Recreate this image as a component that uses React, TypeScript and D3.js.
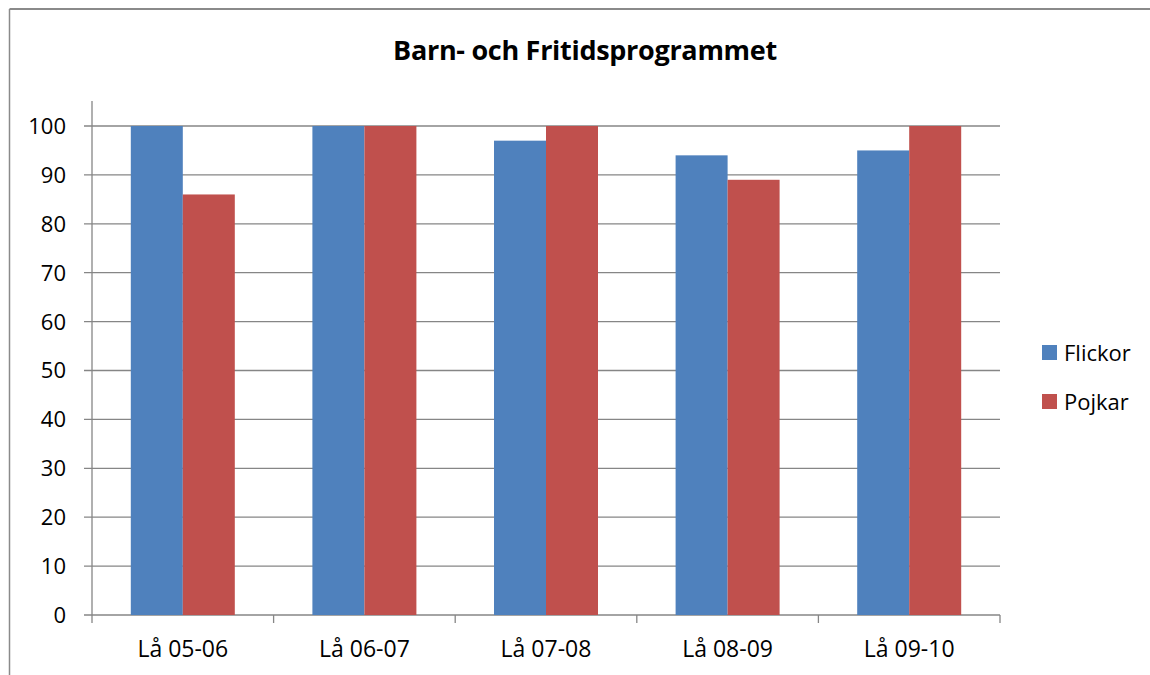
import React from "react";
import * as d3 from "d3";

const categories = ["Lå 05-06", "Lå 06-07", "Lå 07-08", "Lå 08-09", "Lå 09-10"];
const seriesNames = ["Flickor", "Pojkar"];
const flickor = [100, 100, 97, 94, 95];
const pojkar = [86, 100, 100, 89, 100];
const yTicks = [0, 10, 20, 30, 40, 50, 60, 70, 80, 90, 100];
const colors = ["#4F81BD", "#C0504D"];

const W = 1150;
const H = 675;
const FONT = "'Open Sans', 'Noto Sans', sans-serif";

export default function App() {
  const left = 92, right = 1000, top = 126, bottom = 615;
  const x = d3.scaleBand<string>().domain(categories).range([left, right]).paddingInner(0).paddingOuter(0);
  const y = d3.scaleLinear().domain([0, 100]).range([bottom, top]);
  const barW = 52;
  const x1 = d3.scaleBand<string>().domain(seriesNames).range([0, barW * 2]);
  const data = [flickor, pojkar];
  const grid = "#868686";
  const bounds = [...categories.map((c) => x(c) as number), right];

  return (
    <svg width={W} height={H} style={{ position: "absolute", left: 0, top: 0, background: "#fff" }}>
      <rect x={0} y={0} width={W} height={H} fill="#fff" />
      {/* frame */}
      <line x1={9.5} y1={9} x2={W} y2={9} stroke="#8a8a8a" strokeWidth={2} />
      <line x1={9.5} y1={9} x2={9.5} y2={H} stroke="#8a8a8a" strokeWidth={1.5} />
      <text x={585} y={60} textAnchor="middle" fontFamily={FONT} fontWeight="bold" fontSize={27} fill="#000" letterSpacing={-0.3}>
        Barn- och Fritidsprogrammet
      </text>
      {/* gridlines */}
      {yTicks.map((t) => (
        <line key={t} x1={84} x2={right} y1={y(t)} y2={y(t)} stroke={grid} strokeWidth={1.3} />
      ))}
      {/* y axis */}
      <line x1={left} x2={left} y1={101} y2={bottom} stroke={grid} strokeWidth={1.3} />
      {/* x ticks */}
      {bounds.map((b, i) => (
        <line key={i} x1={b} x2={b} y1={bottom} y2={623} stroke={grid} strokeWidth={1.3} />
      ))}
      {/* bars */}
      {categories.map((c, i) => {
        const cx = (x(c) as number) + x.bandwidth() / 2;
        return seriesNames.map((s, j) => (
          <rect
            key={c + s}
            x={cx - barW + (x1(s) as number)}
            y={y(data[j][i])}
            width={barW}
            height={bottom - y(data[j][i])}
            fill={colors[j]}
          />
        ));
      })}
      {/* y labels */}
      {yTicks.map((t) => (
        <text key={t} x={66} y={y(t)} dy="0.36em" textAnchor="end" fontFamily={FONT} fontSize={22} fill="#000">
          {t}
        </text>
      ))}
      {/* x labels */}
      {categories.map((c) => (
        <text key={c} x={(x(c) as number) + x.bandwidth() / 2} y={657} textAnchor="middle" fontFamily={FONT} fontSize={23} fill="#000">
          {c}
        </text>
      ))}
      {/* legend */}
      {seriesNames.map((s, j) => (
        <g key={s}>
          <rect x={1042} y={345 + j * 49} width={15} height={15} fill={colors[j]} />
          <text x={1064} y={353 + j * 49} dy="0.36em" fontFamily={FONT} fontSize={22} fill="#000">
            {s}
          </text>
        </g>
      ))}
    </svg>
  );
}
